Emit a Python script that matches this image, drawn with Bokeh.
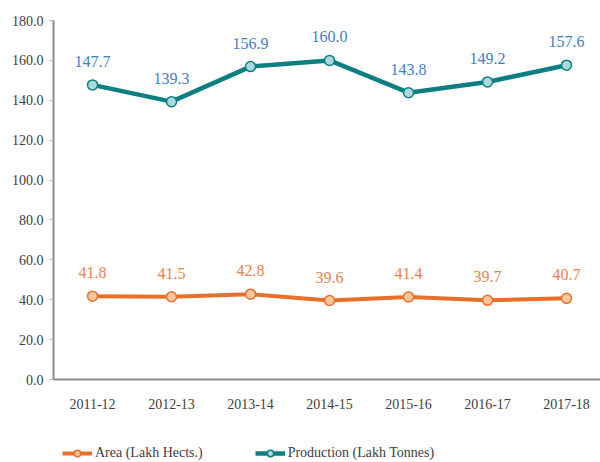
from bokeh.plotting import figure
from bokeh.layouts import column
from bokeh.models import ColumnDataSource, LabelSet, Legend, LegendItem, FixedTicker, Range1d
from bokeh.core.properties import value
from bokeh.embed import file_html
from bokeh.resources import INLINE

years = ["2011-12", "2012-13", "2013-14", "2014-15", "2015-16", "2016-17", "2017-18"]
area = [41.8, 41.5, 42.8, 39.6, 41.4, 39.7, 40.7]
production = [147.7, 139.3, 156.9, 160.0, 143.8, 149.2, 157.6]
y_ticks = [0, 20, 40, 60, 80, 100, 120, 140, 160, 180]
series_names = ["Area (Lakh Hects.)", "Production (Lakh Tonnes)"]

xs = list(range(len(years)))
FONT = "Liberation Serif"
ORANGE = "#e8702a"
TEAL = "#0d7f83"
ORANGE_FILL = "#f8c79c"
TEAL_FILL = "#a9d9dc"

src_a = ColumnDataSource(dict(x=xs, y=area, t=[f"{v:.1f}" for v in area]))
src_p = ColumnDataSource(dict(x=xs, y=production, t=[f"{v:.1f}" for v in production]))

p = figure(frame_width=547, frame_height=359, output_backend="svg", toolbar_location=None,
           x_range=Range1d(-0.494, 6.43), y_range=Range1d(0, 180),
           min_border_left=53, min_border_right=0, min_border_top=20, min_border_bottom=51)
p.outline_line_color = None
p.xgrid.visible = False
p.ygrid.visible = False

p.line("x", "y", source=src_a, line_color=ORANGE, line_width=4)
p.scatter("x", "y", source=src_a, size=10, fill_color=ORANGE_FILL, line_color=ORANGE, line_width=1.5)
p.line("x", "y", source=src_p, line_color=TEAL, line_width=4.5)
p.scatter("x", "y", source=src_p, size=10, fill_color=TEAL_FILL, line_color=TEAL, line_width=1.5)

p.add_layout(LabelSet(x="x", y="y", text="t", source=src_a, y_offset=18, text_align="center",
                      text_baseline="bottom", text_font=value(FONT), text_font_size=value("16px"),
                      text_color="#e8834c"))
p.add_layout(LabelSet(x="x", y="y", text="t", source=src_p, y_offset=18, text_align="center",
                      text_baseline="bottom", text_font=value(FONT), text_font_size=value("16px"),
                      text_color="#3f80c6"))

p.yaxis.ticker = FixedTicker(ticks=y_ticks)
p.yaxis.major_label_overrides = {t: f"{t:.1f}" for t in y_ticks}
p.yaxis.axis_line_color = "#8c8c8c"
p.yaxis.axis_line_width = 2
p.yaxis.major_tick_line_color = "#b0b0b0"
p.yaxis.major_tick_out = 4
p.yaxis.major_tick_in = 0
p.yaxis.minor_tick_line_color = None
p.yaxis.major_label_text_font = FONT
p.yaxis.major_label_text_font_size = "14px"
p.yaxis.major_label_text_color = "#404040"
p.yaxis.major_label_standoff = 6

p.xaxis.ticker = FixedTicker(ticks=xs)
p.xaxis.major_label_overrides = {i: y for i, y in enumerate(years)}
p.xaxis.axis_line_color = "#8c8c8c"
p.xaxis.axis_line_width = 2
p.xaxis.major_tick_line_color = None
p.xaxis.minor_tick_line_color = None
p.xaxis.major_label_text_font = FONT
p.xaxis.major_label_text_font_size = "14px"
p.xaxis.major_label_text_color = "#404040"
p.xaxis.major_label_standoff = 13

# legend strip below the chart (its series lie outside its visible range)
lg = figure(width=600, height=32, output_backend="svg", toolbar_location=None,
            x_axis_location=None, y_axis_location=None,
            x_range=Range1d(0, 1), y_range=Range1d(-1001, -1000),
            min_border_left=0, min_border_right=0, min_border_top=0, min_border_bottom=0)
lg.outline_line_color = None
lg.grid.visible = False
r1 = [lg.line("x", "y", source=src_a, line_color=ORANGE, line_width=4),
      lg.scatter("x", "y", source=src_a, size=10, fill_color=ORANGE_FILL,
                 line_color=ORANGE, line_width=1.5)]
r2 = [lg.line("x", "y", source=src_p, line_color=TEAL, line_width=4.5),
      lg.scatter("x", "y", source=src_p, size=10, fill_color=TEAL_FILL,
                 line_color=TEAL, line_width=1.5)]
legend = Legend(items=[LegendItem(label=series_names[0], renderers=r1),
                       LegendItem(label=series_names[1], renderers=r2)],
                orientation="horizontal", location=(9, 1))
legend.label_text_font = FONT
legend.label_text_font_size = "14px"
legend.label_text_color = "#404040"
legend.glyph_width = 30
legend.label_standoff = 3
legend.spacing = 52
legend.border_line_color = None
legend.background_fill_alpha = 0
legend.padding = 0
legend.margin = 0
legend.label_height = 16
legend.glyph_height = 16
lg.add_layout(legend)

open("out.html", "w").write(file_html(column(p, lg, spacing=0), INLINE))
